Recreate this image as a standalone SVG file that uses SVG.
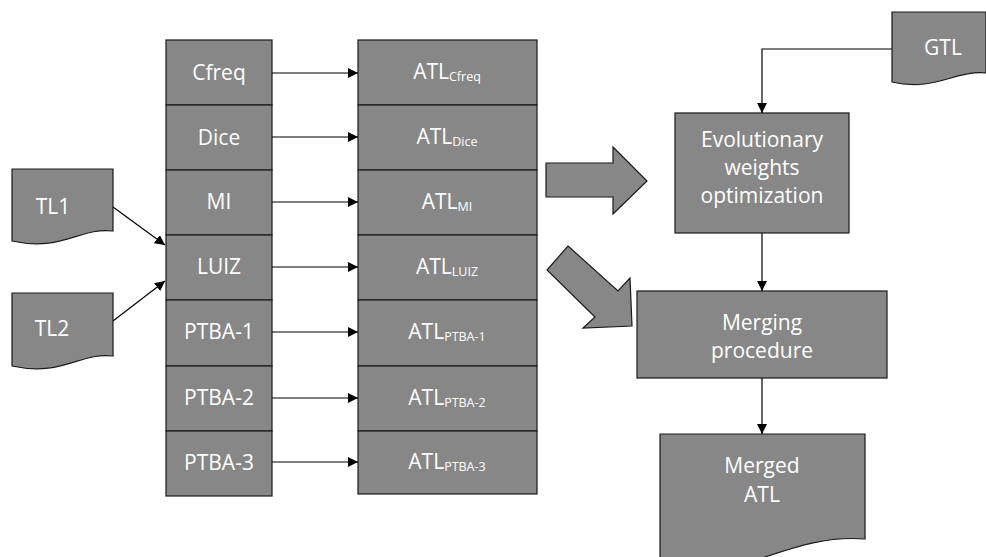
<svg xmlns="http://www.w3.org/2000/svg" width="986" height="557" viewBox="0 0 986 557">
<defs>
<style>
.box{fill:#878787;stroke:#1a1a1a;stroke-width:1.2}
.t{font-family:"Open Sans","Noto Sans",sans-serif;font-size:21px;fill:#fff;text-anchor:middle}
.s{font-size:12.5px}
.ln{stroke:#000;stroke-width:1.2;fill:none}
</style>
<marker id="ah" viewBox="0 0 10 10" refX="10" refY="5" markerWidth="10" markerHeight="10" markerUnits="userSpaceOnUse" orient="auto">
<path d="M0,0 L10,5 L0,10 Z" fill="#000"/>
</marker>
</defs>
<rect width="986" height="557" fill="#fff"/>

<g id="measures">
<g id="n-cfreq"><rect class="box" x="166" y="40" width="106" height="65"/><text class="t" x="219" y="80">Cfreq</text></g>
<g id="n-dice"><rect class="box" x="166" y="105" width="106" height="65"/><text class="t" x="219" y="145">Dice</text></g>
<g id="n-mi"><rect class="box" x="166" y="170" width="106" height="65"/><text class="t" x="219" y="209">MI</text></g>
<g id="n-luiz"><rect class="box" x="166" y="235" width="106" height="65"/><text class="t" x="219" y="274">LUIZ</text></g>
<g id="n-ptba1"><rect class="box" x="166" y="300" width="106" height="66"/><text class="t" x="219" y="339">PTBA-1</text></g>
<g id="n-ptba2"><rect class="box" x="166" y="366" width="106" height="65"/><text class="t" x="219" y="405">PTBA-2</text></g>
<g id="n-ptba3"><rect class="box" x="166" y="431" width="106" height="65"/><text class="t" x="219" y="470">PTBA-3</text></g>
</g>

<g id="atls">
<g id="n-atl-cfreq"><rect class="box" x="358" y="40" width="179" height="65"/><text class="t" x="447" y="79">ATL<tspan class="s" dy="2">Cfreq</tspan></text></g>
<g id="n-atl-dice"><rect class="box" x="358" y="105" width="179" height="65"/><text class="t" x="447" y="144">ATL<tspan class="s" dy="2">Dice</tspan></text></g>
<g id="n-atl-mi"><rect class="box" x="358" y="170" width="179" height="65"/><text class="t" x="447" y="209">ATL<tspan class="s" dy="2">MI</tspan></text></g>
<g id="n-atl-luiz"><rect class="box" x="358" y="235" width="179" height="65"/><text class="t" x="447" y="274">ATL<tspan class="s" dy="2">LUIZ</tspan></text></g>
<g id="n-atl-ptba1"><rect class="box" x="358" y="300" width="179" height="66"/><text class="t" x="447" y="339">ATL<tspan class="s" dy="2">PTBA-1</tspan></text></g>
<g id="n-atl-ptba2"><rect class="box" x="358" y="366" width="179" height="65"/><text class="t" x="447" y="405">ATL<tspan class="s" dy="2">PTBA-2</tspan></text></g>
<g id="n-atl-ptba3"><rect class="box" x="358" y="431" width="179" height="63"/><text class="t" x="447" y="469">ATL<tspan class="s" dy="2">PTBA-3</tspan></text></g>
</g>

<g id="n-tl1"><path class="box" d="M12,169 H113 V231 C80,227 62,252 12,241 Z"/><text class="t" x="53" y="214">TL1</text></g>
<g id="n-tl2"><path class="box" d="M12,293 H113 V356 C80,352 62,377 12,366 Z"/><text class="t" x="52" y="336">TL2</text></g>
<g id="n-gtl"><path class="box" d="M892,12 H986 V73 C955,70 935,92 892,82 Z"/><text class="t" x="943" y="55">GTL</text></g>

<g id="n-evo"><rect class="box" x="675" y="113" width="174" height="120"/>
<text class="t" x="762" y="147">Evolutionary</text><text class="t" x="762" y="175">weights</text><text class="t" x="762" y="203">optimization</text></g>
<g id="n-merge"><rect class="box" x="637" y="291" width="250" height="87"/>
<text class="t" x="762" y="330">Merging</text><text class="t" x="762" y="358">procedure</text></g>
<g id="n-merged"><path class="box" d="M660,434 H865 V539 C828,536 798,546 762,558 L660,585 Z"/>
<text class="t" x="762" y="473">Merged</text><text class="t" x="762" y="502">ATL</text></g>

<g id="block-arrows">
<polygon class="box" points="546,163 613,163 613,147 647,181 613,214 613,197 546,197"/>
<polygon class="box" points="568,246 618,291 630,278 632,326 583,328 595,317 547,270"/>
</g>

<g id="connectors">
<line class="ln" x1="272" y1="73" x2="358" y2="73" marker-end="url(#ah)"/>
<line class="ln" x1="272" y1="137" x2="358" y2="137" marker-end="url(#ah)"/>
<line class="ln" x1="272" y1="202" x2="358" y2="202" marker-end="url(#ah)"/>
<line class="ln" x1="272" y1="267" x2="358" y2="267" marker-end="url(#ah)"/>
<line class="ln" x1="272" y1="332" x2="358" y2="332" marker-end="url(#ah)"/>
<line class="ln" x1="272" y1="398" x2="358" y2="398" marker-end="url(#ah)"/>
<line class="ln" x1="272" y1="462" x2="358" y2="462" marker-end="url(#ah)"/>
<line class="ln" x1="113" y1="207" x2="165" y2="245" marker-end="url(#ah)"/>
<line class="ln" x1="113" y1="321" x2="165" y2="281" marker-end="url(#ah)"/>
<polyline class="ln" points="892,49 762,49 762,113" marker-end="url(#ah)"/>
<line class="ln" x1="762" y1="233" x2="762" y2="291" marker-end="url(#ah)"/>
<line class="ln" x1="762" y1="378" x2="762" y2="434" marker-end="url(#ah)"/>
</g>
</svg>
